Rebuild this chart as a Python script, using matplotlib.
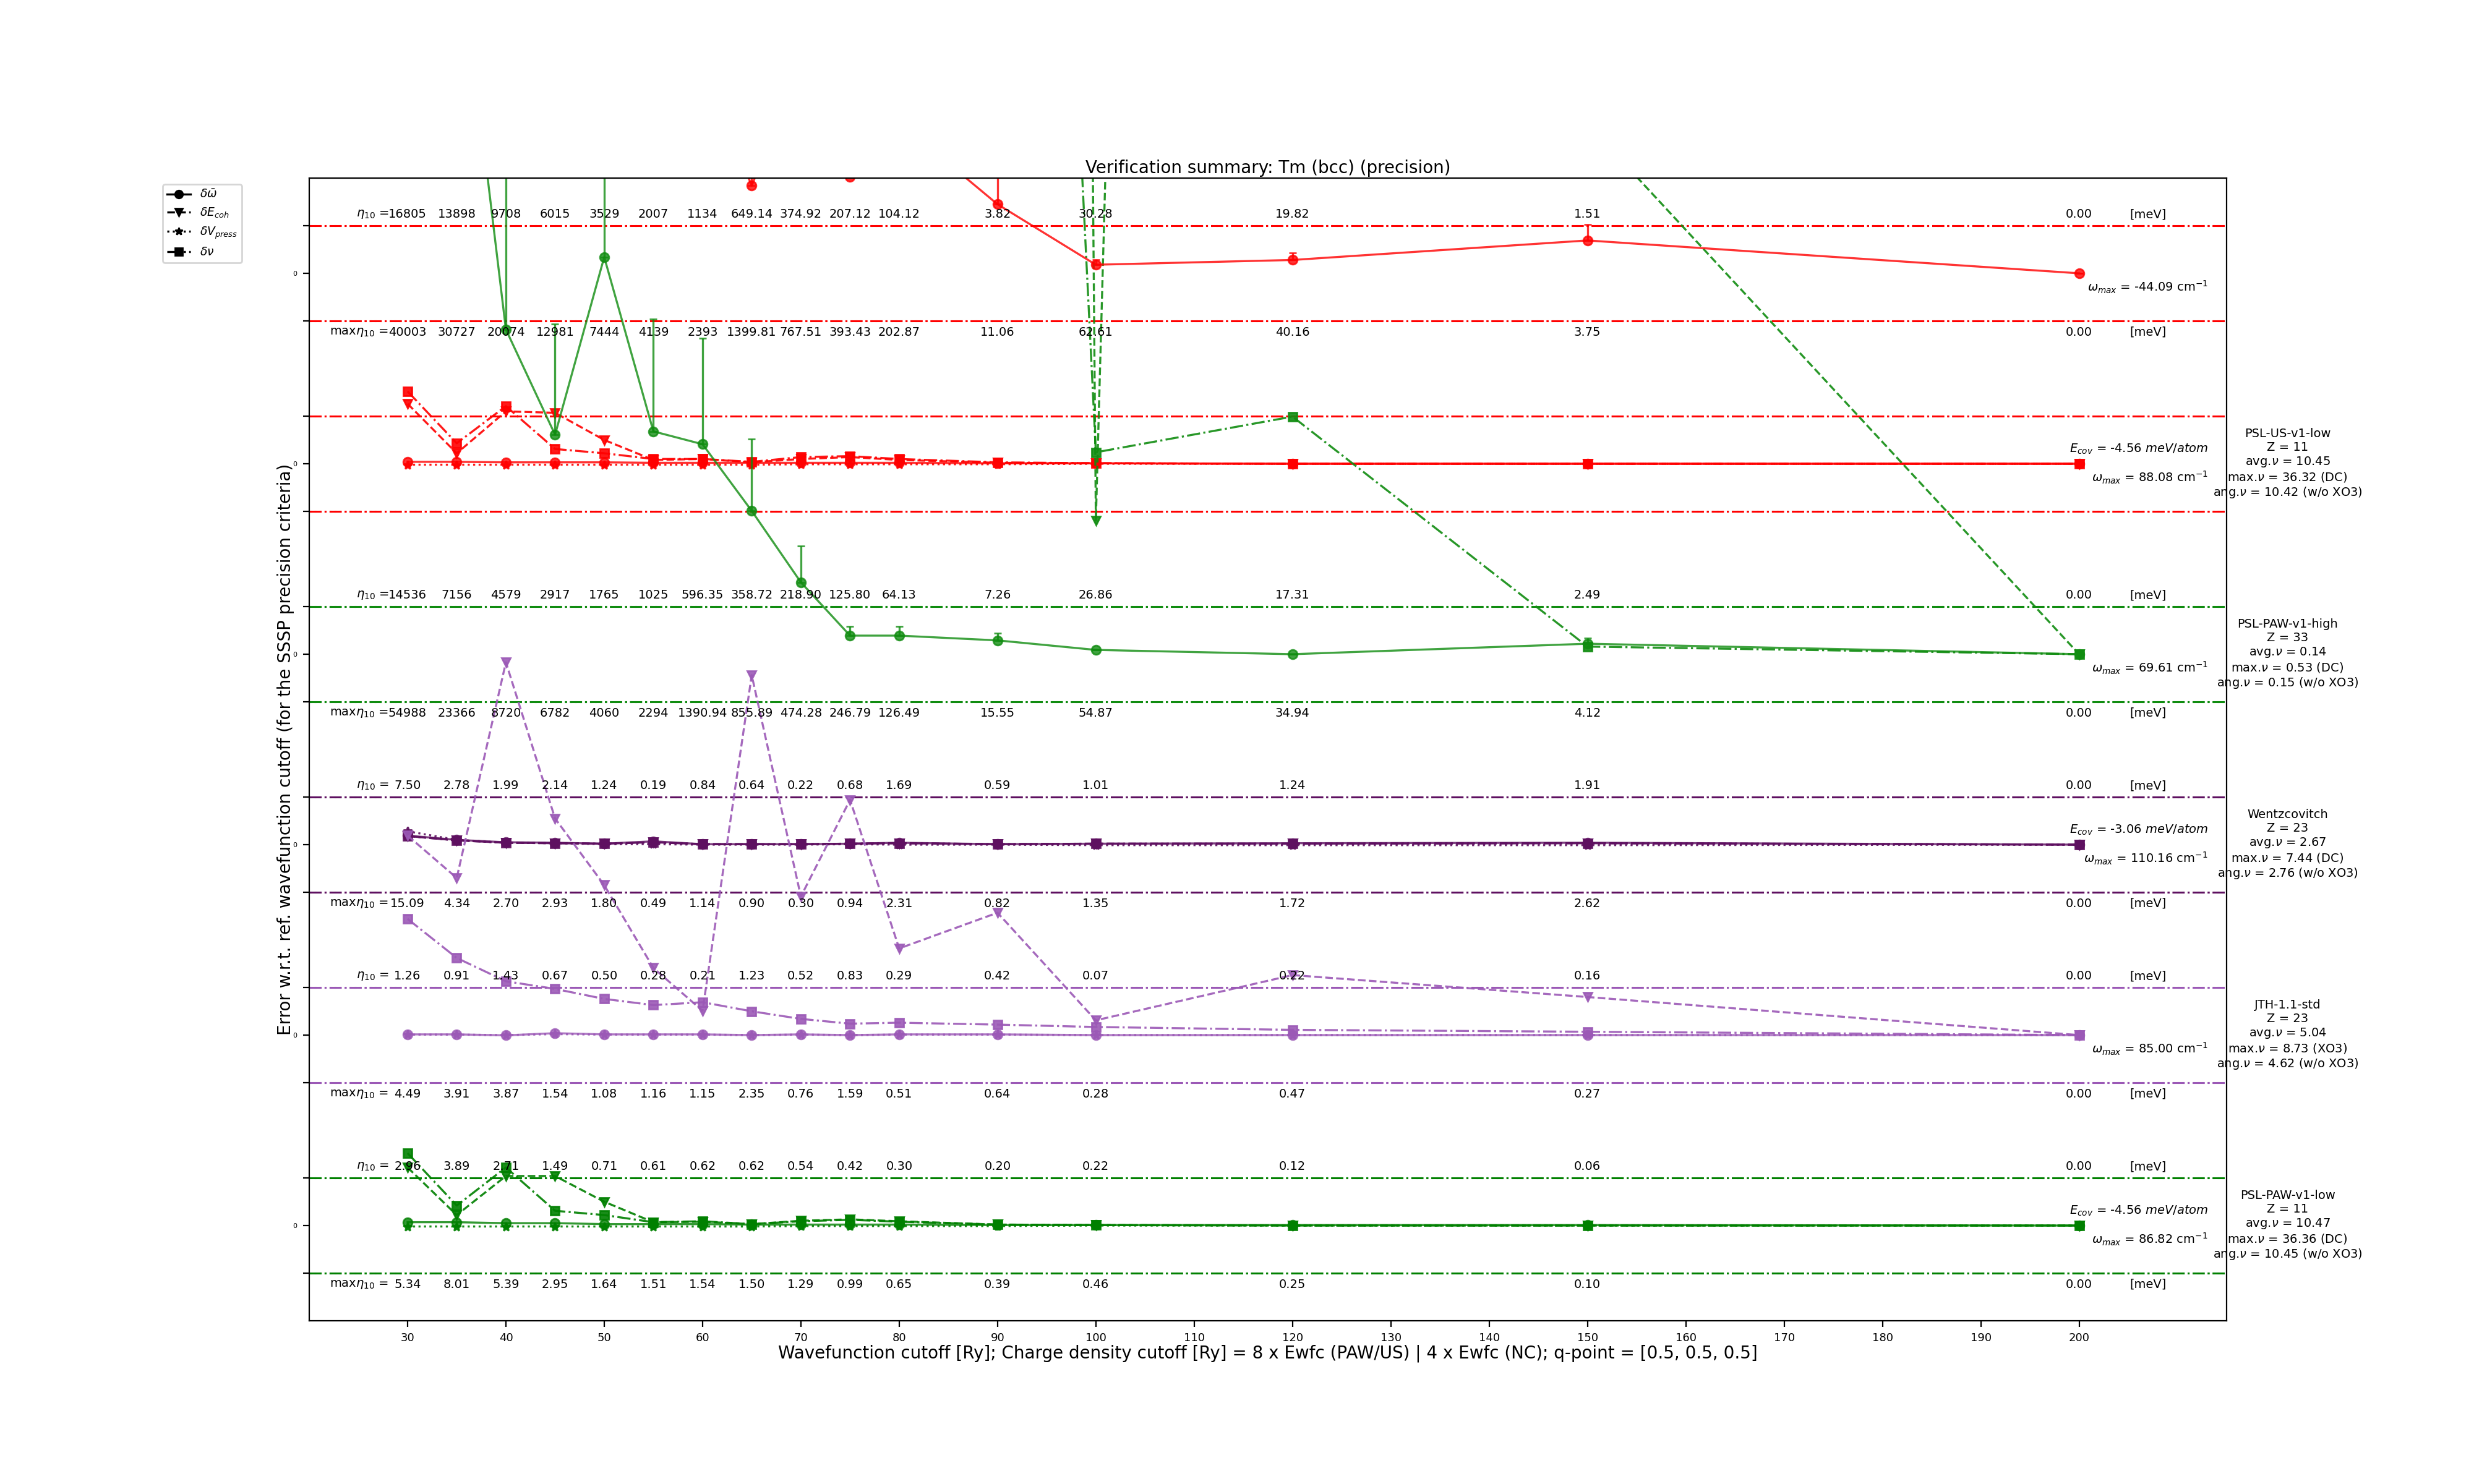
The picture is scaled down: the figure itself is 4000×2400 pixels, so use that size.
import matplotlib
matplotlib.use("Agg")
import matplotlib.pyplot as plt
from matplotlib.lines import Line2D
import numpy as np

# ---------------- data ----------------
cutoffs = [30, 35, 40, 45, 50, 55, 60, 65, 70, 75, 80, 90, 100, 120, 150, 200]

# row A (top, offset 20) : PSL-US-v1-low phonon
rowA_omega = [12.0, 10.0, 9.0, 8.0, 7.0, 6.0, 4.4, 1.84, 4.4, 2.03, 3.17, 1.45, 0.18, 0.28, 0.69, 0.0]
rowA_omega_err = [0.5, 0.5, 0.5, 0.5, 0.5, 0.5, 0.5, 1.0, 0.5, 0.3, 0.5, 0.8, 0.10, 0.15, 0.34, 0.0]
rowA_eta = ["16805", "13898", "9708", "6015", "3529", "2007", "1134", "649.14", "374.92", "207.12",
            "104.12", "3.82", "30.28", "19.82", "1.51", "0.00"]
rowA_maxeta = ["40003", "30727", "20074", "12981", "7444", "4139", "2393", "1399.81", "767.51",
               "393.43", "202.87", "11.06", "62.61", "40.16", "3.75", "0.00"]

# row B (offset 16) : PSL-US-v1-low
rowB_omega = [0.04, 0.04, 0.03, 0.03, 0.03, 0.02, 0.02, 0.02, 0.02, 0.02, 0.02, 0.01, 0.01, 0.0, 0.0, 0.0]
rowB_ecoh = [1.26, 0.22, 1.10, 1.07, 0.50, 0.08, 0.10, 0.03, 0.10, 0.14, 0.08, 0.02, 0.01, 0.0, 0.0, 0.0]
rowB_vpress = [-0.02, -0.02, -0.02, -0.02, -0.02, -0.02, -0.02, -0.02, -0.01, -0.01, -0.01, -0.01, 0.0, 0.0, 0.0, 0.0]
rowB_nu = [1.52, 0.43, 1.21, 0.31, 0.22, 0.10, 0.10, 0.04, 0.14, 0.16, 0.10, 0.03, 0.01, 0.0, 0.0, 0.0]

# row C (offset 12) : PSL-PAW-v1-high
rowC_omega = [20.0, 15.4, 6.82, 4.61, 8.34, 4.68, 4.41, 3.01, 1.51, 0.39, 0.39, 0.29, 0.09, 0.0, 0.22, 0.0]
rowC_omega_err = [2.0, 2.0, 5.0, 2.33, 3.0, 2.36, 2.23, 1.51, 0.76, 0.19, 0.19, 0.15, 0.0, 0.0, 0.12, 0.0]
rowC_ecoh = [300.0, 300.0, 280.0, 280.0, 270.0, 270.0, 260.0, 260.0, 255.0, 250.0, 245.0, 243.0, 2.81, 152.6, 11.14, 0.0]
rowC_nu = [60.0, 55.0, 50.0, 50.0, 50.0, 50.0, 50.0, 50.0, 50.0, 50.0, 48.0, 46.0, 4.24, 4.99, 0.16, 0.0]
rowC_eta = ["14536", "7156", "4579", "2917", "1765", "1025", "596.35", "358.72", "218.90", "125.80",
            "64.13", "7.26", "26.86", "17.31", "2.49", "0.00"]
rowC_maxeta = ["54988", "23366", "8720", "6782", "4060", "2294", "1390.94", "855.89", "474.28",
               "246.79", "126.49", "15.55", "54.87", "34.94", "4.12", "0.00"]

# row D (offset 8) : Wentzcovitch
rowD_omega = [0.19, 0.10, 0.05, 0.04, 0.02, 0.07, 0.01, 0.01, 0.01, 0.02, 0.04, 0.01, 0.02, 0.03, 0.04, 0.0]
rowD_ecoh = [0.18, 0.09, 0.04, 0.03, 0.02, 0.05, 0.01, 0.01, 0.01, 0.02, 0.03, 0.01, 0.02, 0.02, 0.03, 0.0]
rowD_vpress = [0.28, 0.10, 0.04, 0.03, 0.01, 0.01, 0.0, 0.0, 0.0, 0.01, 0.0, 0.0, -0.01, -0.01, -0.01, 0.0]
rowD_nu = [0.18, 0.09, 0.04, 0.03, 0.02, 0.05, 0.01, 0.01, 0.01, 0.02, 0.03, 0.01, 0.02, 0.02, 0.03, 0.0]
rowD_eta = ["7.50", "2.78", "1.99", "2.14", "1.24", "0.19", "0.84", "0.64", "0.22", "0.68", "1.69",
            "0.59", "1.01", "1.24", "1.91", "0.00"]
rowD_maxeta = ["15.09", "4.34", "2.70", "2.93", "1.80", "0.49", "1.14", "0.90", "0.30", "0.94", "2.31",
               "0.82", "1.35", "1.72", "2.62", "0.00"]

# row E (offset 4) : JTH-1.1-std
rowE_omega = [0.015, 0.015, -0.005, 0.04, 0.015, 0.015, 0.015, 0.0, 0.015, 0.0, 0.015, 0.015, 0.0, 0.0, 0.0, 0.0]
rowE_ecoh = [4.19, 3.30, 7.83, 4.55, 3.15, 1.41, 0.51, 7.56, 2.91, 4.94, 1.82, 2.57, 0.31, 1.26, 0.80, 0.0]
rowE_vpress = [0.01, 0.01, 0.0, 0.02, 0.01, 0.01, 0.01, 0.0, 0.01, 0.0, 0.01, 0.01, 0.0, 0.0, 0.0, 0.0]
rowE_nu = [2.44, 1.62, 1.13, 0.97, 0.76, 0.63, 0.69, 0.50, 0.34, 0.24, 0.26, 0.22, 0.17, 0.11, 0.07, 0.0]
rowE_eta = ["1.26", "0.91", "1.43", "0.67", "0.50", "0.28", "0.21", "1.23", "0.52", "0.83", "0.29",
            "0.42", "0.07", "0.22", "0.16", "0.00"]
rowE_maxeta = ["4.49", "3.91", "3.87", "1.54", "1.08", "1.16", "1.15", "2.35", "0.76", "1.59", "0.51",
               "0.64", "0.28", "0.47", "0.27", "0.00"]

# row F (offset 0) : PSL-PAW-v1-low
rowF_omega = [0.07, 0.07, 0.05, 0.05, 0.03, 0.03, 0.03, 0.02, 0.02, 0.02, 0.02, 0.01, 0.01, 0.01, 0.01, 0.0]
rowF_ecoh = [1.22, 0.22, 1.04, 1.04, 0.50, 0.07, 0.08, 0.03, 0.10, 0.13, 0.09, 0.02, 0.01, 0.0, 0.0, 0.0]
rowF_vpress = [-0.02, -0.02, -0.02, -0.02, -0.02, -0.02, -0.02, -0.02, -0.01, -0.01, -0.01, -0.01, 0.0, 0.0, 0.0, 0.0]
rowF_nu = [1.52, 0.42, 1.22, 0.31, 0.22, 0.07, 0.09, 0.03, 0.09, 0.12, 0.08, 0.02, 0.01, 0.0, 0.0, 0.0]
rowF_eta = ["2.96", "3.89", "2.71", "1.49", "0.71", "0.61", "0.62", "0.62", "0.54", "0.42", "0.30",
            "0.20", "0.22", "0.12", "0.06", "0.00"]
rowF_maxeta = ["5.34", "8.01", "5.39", "2.95", "1.64", "1.51", "1.54", "1.50", "1.29", "0.99", "0.65",
               "0.39", "0.46", "0.25", "0.10", "0.00"]

row_offsets = [20, 16, 12, 8, 4, 0]
row_colors = ["#ff0000", "#ff0000", "#108c10", "#5e1060", "#9b59b6", "#008000"]
omega_max = ["-44.09", "88.08", "69.61", "110.16", "85.00", "86.82"]
e_cov = [None, "-4.56", None, "-3.06", None, "-4.56"]
pseudo_labels = [
    None,
    "PSL-US-v1-low\nZ = 11\navg.$\\nu$ = 10.45\nmax.$\\nu$ = 36.32 (DC)\nang.$\\nu$ = 10.42 (w/o XO3)",
    "PSL-PAW-v1-high\nZ = 33\navg.$\\nu$ = 0.14\nmax.$\\nu$ = 0.53 (DC)\nang.$\\nu$ = 0.15 (w/o XO3)",
    "Wentzcovitch\nZ = 23\navg.$\\nu$ = 2.67\nmax.$\\nu$ = 7.44 (DC)\nang.$\\nu$ = 2.76 (w/o XO3)",
    "JTH-1.1-std\nZ = 23\navg.$\\nu$ = 5.04\nmax.$\\nu$ = 8.73 (XO3)\nang.$\\nu$ = 4.62 (w/o XO3)",
    "PSL-PAW-v1-low\nZ = 11\navg.$\\nu$ = 10.47\nmax.$\\nu$ = 36.36 (DC)\nang.$\\nu$ = 10.45 (w/o XO3)",
]
row_omega = [rowA_omega, rowB_omega, rowC_omega, rowD_omega, rowE_omega, rowF_omega]
row_omega_err = [rowA_omega_err, None, rowC_omega_err, None, None, None]
row_ecoh = [None, rowB_ecoh, rowC_ecoh, rowD_ecoh, rowE_ecoh, rowF_ecoh]
row_vpress = [None, rowB_vpress, None, rowD_vpress, rowE_vpress, rowF_vpress]
row_nu = [None, rowB_nu, rowC_nu, rowD_nu, rowE_nu, rowF_nu]
row_eta = [rowA_eta, None, rowC_eta, rowD_eta, rowE_eta, rowF_eta]
row_maxeta = [rowA_maxeta, None, rowC_maxeta, rowD_maxeta, rowE_maxeta, rowF_maxeta]

xticks = list(range(30, 201, 10))

# ---------------- plot ----------------
fig = plt.figure(figsize=(20, 12), dpi=200)
ax = fig.add_subplot(111)

x = np.array(cutoffs, dtype=float)
TXT = 7
MS = 5.3
LW = 1.2

for i, off in enumerate(row_offsets):
    c = row_colors[i]
    # thresholds
    for s in (1, -1):
        ax.axhline(off + s, color=c, ls="-.", lw=1.1)
        ax.axhline(off + s, color=c, ls=":", lw=1.1)
    om = np.array(row_omega[i]) + off
    if row_omega_err[i] is not None:
        err = np.array(row_omega_err[i])
        ax.errorbar(x, om, yerr=[np.zeros_like(err), err], fmt="-o", color=c, alpha=0.8,
                    ms=MS, lw=LW, elinewidth=LW, capsize=2)
    else:
        ax.plot(x, om, "-o", color=c, alpha=0.8, ms=MS, lw=LW)
    if row_ecoh[i] is not None:
        ax.plot(x, np.array(row_ecoh[i]) + off, "--v", color=c, alpha=0.9, ms=MS, lw=LW)
    if row_vpress[i] is not None:
        ax.plot(x, np.array(row_vpress[i]) + off, ":*", color=c, alpha=0.9, ms=MS, lw=LW)
    if row_nu[i] is not None:
        ax.plot(x, np.array(row_nu[i]) + off, "-.s", color=c, alpha=0.9, ms=MS, lw=LW)

    # eta texts
    for labels, dy, prefix in ((row_eta[i], 1.24, r"$\eta_{10}$ ="), (row_maxeta[i], -1.24, r"max$\eta_{10}$ =")):
        if labels is None:
            continue
        for xv, s in zip(cutoffs, labels):
            ax.text(xv, off + dy, s, ha="center", va="center", fontsize=TXT)
        ax.text(cutoffs[0] - 1.9, off + dy, prefix, ha="right", va="center", fontsize=TXT)
        ax.text(207, off + dy, "[meV]", ha="center", va="center", fontsize=TXT)

    ax.text(213.1, off - 0.29, r"$\omega_{max}$ = " + omega_max[i] + r" cm$^{-1}$",
            ha="right", va="center", fontsize=TXT)
    if e_cov[i] is not None:
        ax.text(213.1, off + 0.31, r"$E_{cov}$ = " + e_cov[i] + r" $meV/atom$",
                ha="right", va="center", fontsize=TXT)
    if pseudo_labels[i] is not None:
        ax.text(221.2, off, pseudo_labels[i], ha="center", va="center", fontsize=TXT)

ax.set_xlim(20, 215)
ax.set_ylim(-2, 22)
ax.set_xticks(xticks)
ax.tick_params(axis="x", labelsize=6.5)
yt = []
ytl = []
for off in sorted(row_offsets):
    yt += [off - 1, off, off + 1]
    ytl += ["", "0", ""]
ax.set_yticks(yt)
ax.set_yticklabels(ytl)
ax.tick_params(axis="y", labelsize=4)

ax.set_title("Verification summary: Tm (bcc) (precision)", fontsize=10, pad=3)
ax.set_xlabel("Wavefunction cutoff [Ry]; Charge density cutoff [Ry] = 8 x Ewfc (PAW/US) | 4 x Ewfc (NC); "
              "q-point = [0.5, 0.5, 0.5]", fontsize=10, labelpad=0.5)
ax.set_ylabel("Error w.r.t. ref. wavefunction cutoff (for the SSSP precision criteria)", fontsize=10,
              labelpad=-1)

handles = [
    Line2D([], [], color="k", ls="-", marker="o", ms=4.5, lw=1.2),
    Line2D([], [], color="k", ls="--", marker="v", ms=4.5, lw=1.2),
    Line2D([], [], color="k", ls=":", marker="*", ms=4.5, lw=1.2),
    Line2D([], [], color="k", ls="-.", marker="s", ms=4.5, lw=1.2),
]
labels = [r"$\delta \bar{\omega}$", r"$\delta E_{coh}$", r"$\delta V_{press}$", r"$\delta \nu$"]
fig.legend(handles, labels, loc="upper left", bbox_to_anchor=(263 / 4000, 1 - 298 / 2400),
           bbox_transform=fig.transFigure, fontsize=6.7, borderaxespad=0)

fig.savefig("out.png", dpi=200)
